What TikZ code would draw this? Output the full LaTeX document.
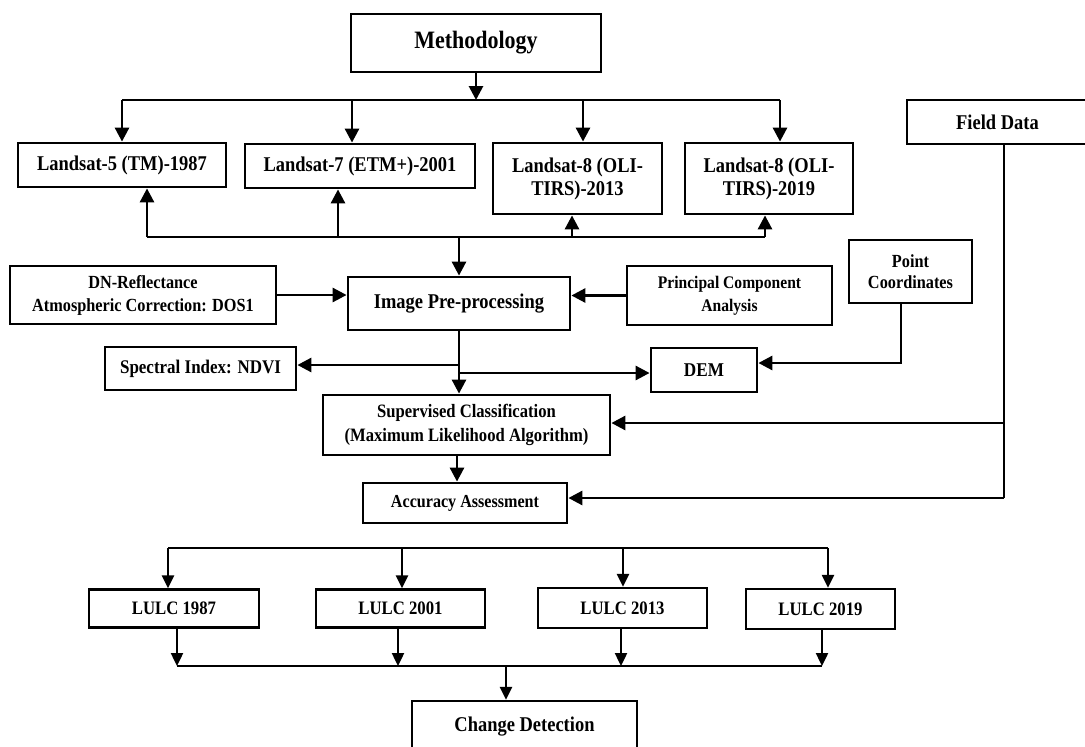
\documentclass[tikz,border=0pt]{standalone}
\usepackage{fontspec}
\setmainfont{Liberation Serif}[FakeStretch=0.88]
\usetikzlibrary{arrows.meta}
\newcommand{\fsz}[2]{\fontsize{#1}{#2}\selectfont}
\tikzset{
  box/.style={draw, line width=2.8pt, fill=white, inner sep=0pt, align=center},
  boxb/.style={draw, line width=2.4pt, fill=white, inner sep=0pt, align=center},
  ln/.style={line width=2.8pt},
  arr/.style={line width=2.8pt, -{Triangle[length=14pt,width=14pt]}},
  lnb/.style={line width=2.4pt},
  arrb/.style={line width=2.4pt, -{Triangle[length=13pt,width=12pt]}},
}
\begin{document}
\begin{tikzpicture}[x=1pt,y=-1pt]
\useasboundingbox (0,0) rectangle (1085,747);
% nodes
\node[box, minimum width=250pt, minimum height=58pt, font=\bfseries\fsz{25}{30}] (meth) at (476,43) {Methodology};
\node[box, minimum width=208pt, minimum height=44pt, font=\bfseries\fsz{21}{24}] (l5) at (122,165) {Landsat-5 (TM)-1987};
\node[box, minimum width=230pt, minimum height=44pt, font=\bfseries\fsz{21}{24}] (l7) at (360,166) {Landsat-7 (ETM+)-2001};
\node[box, minimum width=169pt, minimum height=71pt, font=\bfseries\fsz{21}{23}] (l8a) at (577.5,178.5) {Landsat-8 (OLI-\\TIRS)-2013};
\node[box, minimum width=168pt, minimum height=71pt, font=\bfseries\fsz{21}{23}] (l8b) at (769,178.5) {Landsat-8 (OLI-\\TIRS)-2019};
\node[box, minimum width=181pt, minimum height=44pt, font=\bfseries\fsz{21}{24}] (field) at (997.5,122) {Field Data};
\node[box, minimum width=222pt, minimum height=53pt, font=\bfseries\fsz{21}{24}] (pre) at (459,303.5) {Image Pre-processing};
\node[box, minimum width=266pt, minimum height=58pt, font=\bfseries\fsz{18.5}{23}] (dn) at (143,295) {DN-Reflectance\\Atmospheric Correction: DOS1};
\node[box, minimum width=205pt, minimum height=59pt, font=\bfseries\fsz{17.7}{23}] (pca) at (729.5,295.5) {Principal Component\\Analysis};
\node[box, minimum width=123pt, minimum height=63pt, font=\bfseries\fsz{18.5}{21.5}] (pt) at (910.5,271.5) {Point\\Coordinates};
\node[box, minimum width=106pt, minimum height=44pt, font=\bfseries\fsz{19.5}{23}] (dem) at (704,370) {DEM};
\node[box, minimum width=191pt, minimum height=43pt, font=\bfseries\fsz{19.3}{23}] (ndvi) at (200.5,368.5) {Spectral Index: NDVI};
\node[box, minimum width=287pt, minimum height=60pt, font=\bfseries\fsz{18.9}{24}] (sup) at (466.5,425) {Supervised Classification\\(Maximum Likelihood Algorithm)};
\node[box, minimum width=204pt, minimum height=40pt, font=\bfseries\fsz{18.3}{22}] (acc) at (465,503) {Accuracy Assessment};
\node[boxb, minimum width=170pt, minimum height=38pt, font=\bfseries\fsz{19}{23}] (lulc1) at (174,608.5) {LULC 1987};
\node[boxb, minimum width=169pt, minimum height=38pt, font=\bfseries\fsz{19}{23}] (lulc2) at (400.5,608.5) {LULC 2001};
\node[boxb, minimum width=169pt, minimum height=40pt, font=\bfseries\fsz{19}{23}] (lulc3) at (622.5,608) {LULC 2013};
\node[boxb, minimum width=149pt, minimum height=40pt, font=\bfseries\fsz{19}{23}] (lulc4) at (820.5,609) {LULC 2019};
\node[boxb, minimum width=225pt, minimum height=52pt, font=\bfseries\fsz{21}{24}] (cd) at (524.5,727) {Change Detection};
% top bus
\coordinate (tb) at (476,100);
\coordinate (t1) at (122,100);
\coordinate (t2) at (352,100);
\coordinate (t3) at (583,100);
\coordinate (t4) at (780,100);
\draw[ln] (t1) -- (t4);
\draw[arr] (meth.south) -- (tb);
\draw[arr] (t1) -- (t1 |- l5.north);
\draw[arr] (t2) -- (t2 |- l7.north);
\draw[arr] (t3) -- (t3 |- l8a.north);
\draw[arr] (t4) -- (t4 |- l8b.north);
% lower bus under Landsat
\coordinate (b1) at (147,237);
\coordinate (b2) at (338,237);
\coordinate (b3) at (572,237);
\coordinate (b4) at (765,237);
\coordinate (bc) at (459,237);
\draw[ln] (b1) -- (b4);
\draw[arr] (b1) -- (b1 |- l5.south);
\draw[arr] (b2) -- (b2 |- l7.south);
\draw[arr] (b3) -- (b3 |- l8a.south);
\draw[arr] (b4) -- (b4 |- l8b.south);
\draw[arr] (bc) -- (bc |- pre.north);
% inputs to pre-processing
\draw[arr] (dn.east) -- (dn.east -| pre.west);
\draw[arr] (pca.west) -- (pca.west -| pre.east);
% pre-processing outputs
\coordinate (j1) at (459,365);
\coordinate (j2) at (459,373);
\draw[arr] (pre.south) -- (pre.south |- sup.north);
\draw[arr] (j1) -- (j1 -| ndvi.east);
\draw[arr] (j2) -- (j2 -| dem.west);
% point coordinates to DEM
\coordinate (pc) at (901,363);
\draw[arr] (pt.south -| pc) -- (pc) -- (pc -| dem.east);
% field data
\coordinate (f1) at (1004,423);
\coordinate (f2) at (1004,498);
\draw[ln] (field.south -| f2) -- (f2);
\draw[arr] (f1) -- (f1 -| sup.east);
\draw[arr] (f2) -- (f2 -| acc.east);
% supervised to accuracy
\coordinate (s1) at (457,455);
\draw[arr] (s1) -- (s1 |- acc.north);
% LULC bus
\coordinate (c1) at (168,548);
\coordinate (c2) at (402,548);
\coordinate (c3) at (623,548);
\coordinate (c4) at (828,548);
\draw[lnb] (c1) -- (c4);
\draw[arrb] (c1) -- (c1 |- lulc1.north);
\draw[arrb] (c2) -- (c2 |- lulc2.north);
\draw[arrb] (c3) -- (c3 |- lulc3.north);
\draw[arrb] (c4) -- (c4 |- lulc4.north);
% change detection bus
\coordinate (d1) at (177,666);
\coordinate (d2) at (398,666);
\coordinate (d3) at (621,666);
\coordinate (d4) at (822,666);
\coordinate (dc) at (506,666);
\draw[lnb] (d1) -- (d4);
\draw[arrb] (d1 |- lulc1.south) -- (d1);
\draw[arrb] (d2 |- lulc2.south) -- (d2);
\draw[arrb] (d3 |- lulc3.south) -- (d3);
\draw[arrb] (d4 |- lulc4.south) -- (d4);
\draw[arrb] (dc) -- (dc |- cd.north);
\end{tikzpicture}
\end{document}
